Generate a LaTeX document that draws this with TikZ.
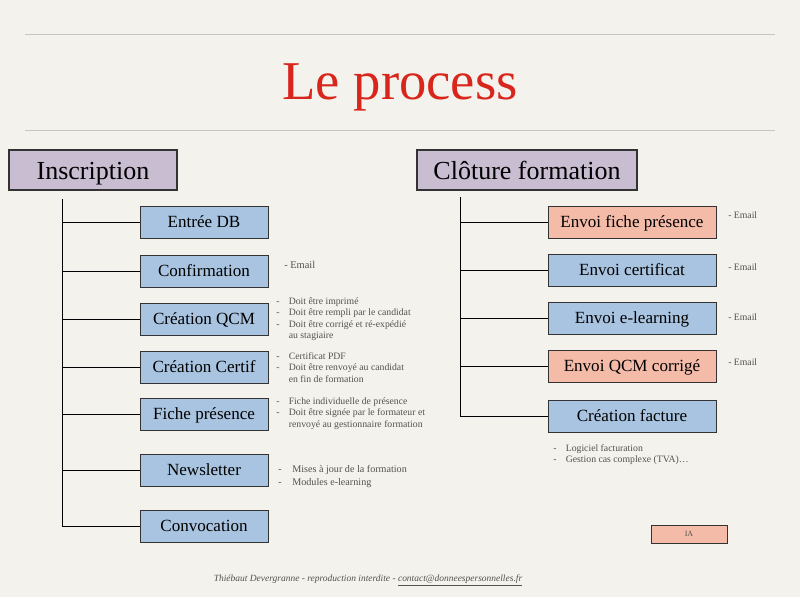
\documentclass[tikz,border=0pt]{standalone}
\usepackage{fontspec}
\setmainfont{Liberation Serif}
\usetikzlibrary{positioning}

\definecolor{paper}{HTML}{F4F2ED}
\definecolor{rulegrey}{HTML}{C9C5BD}
\definecolor{titlered}{HTML}{D8261C}
\definecolor{headpurple}{HTML}{C9BDD1}
\definecolor{stepblue}{HTML}{A9C4E0}
\definecolor{stepsalmon}{HTML}{F4BBA8}
\definecolor{notegrey}{HTML}{55524E}

\tikzset{
  headbox/.style={draw=black!80, fill=headpurple, line width=0.8pt, minimum width=126pt, minimum height=30pt, text height=14pt, text depth=0pt, font=\fontsize{19.5}{22}\selectfont},
  leftbox/.style={draw=black!80, fill=stepblue, line width=0.6pt, minimum width=96pt, minimum height=24pt, text height=8.8pt, text depth=0pt, font=\fontsize{12.8}{15}\selectfont},
  rightbox/.style={leftbox, minimum width=126pt},
  notetext/.style={inner sep=0pt, text=notegrey, font=\fontsize{7.3}{8.6}\selectfont},
  branch/.style={line width=0.7pt}
}

\begin{document}
\begin{tikzpicture}[x=0.75pt,y=-0.75pt]
\fill[paper] (0,0) rectangle (800,597);
\useasboundingbox (0,0) rectangle (800,597);

\draw[rulegrey, line width=0.6pt] (25,34) -- (775,34);
\draw[rulegrey, line width=0.6pt] (25,130) -- (775,130);
\node[text=titlered, font=\fontsize{41}{46}\selectfont] (title) at (400,87) {Le process};

% left column
\node[headbox, minimum width=126pt] (insc) at (93,170) {Inscription};

\node[leftbox] (db) at (204,222) {Entrée DB};
\node[leftbox] (conf) at (204,271) {Confirmation};
\node[leftbox] (qcm) at (204,319) {Création QCM};
\node[leftbox] (certif) at (204,367) {Création Certif};
\node[leftbox] (fiche) at (204,414) {Fiche présence};
\node[leftbox] (news) at (204,470) {Newsletter};
\node[leftbox] (convoc) at (204,526) {Convocation};

\coordinate (ltop) at (62,199);
\coordinate (lbot) at (62,526);

\node[notetext, anchor=west, font=\fontsize{7.8}{9}\selectfont] (confnote) at (284,265) {- Email};
\node[notetext, anchor=north west] (qcmnote) at (276,296) {\begin{tabular}{@{}l@{\hspace{7pt}}l@{}}
- & Doit être imprimé\\
- & Doit être rempli par le candidat\\
- & Doit être corrigé et ré-expédié\\
  & au stagiaire
\end{tabular}};
\node[notetext, anchor=north west] (certifnote) at (276,351) {\begin{tabular}{@{}l@{\hspace{7pt}}l@{}}
- & Certificat PDF\\
- & Doit être renvoyé au candidat\\
  & en fin de formation
\end{tabular}};
\node[notetext, anchor=north west] (fichenote) at (276,396) {\begin{tabular}{@{}l@{\hspace{7pt}}l@{}}
- & Fiche individuelle de présence\\
- & Doit être signée par le formateur et\\
  & renvoyé au gestionnaire formation
\end{tabular}};
\node[notetext, anchor=north west, font=\fontsize{7.6}{9.6}\selectfont] (newsnote) at (278,463) {\begin{tabular}{@{}l@{\hspace{8pt}}l@{}}
- & Mises à jour de la formation\\
- & Modules e-learning
\end{tabular}};

\draw[branch] (ltop) -- (lbot);
\draw[branch] (ltop |- db.west) -- (db.west);
\draw[branch] (ltop |- conf.west) -- (conf.west);
\draw[branch] (ltop |- qcm.west) -- (qcm.west);
\draw[branch] (ltop |- certif.west) -- (certif.west);
\draw[branch] (ltop |- fiche.west) -- (fiche.west);
\draw[branch] (ltop |- news.west) -- (news.west);
\draw[branch] (ltop |- convoc.west) -- (convoc.west);

% right column
\node[headbox, minimum width=165pt] (clot) at (527,170) {Clôture formation};

\node[rightbox, fill=stepsalmon] (envfiche) at (632,222) {Envoi fiche présence};
\node[rightbox] (envcert) at (632,270) {Envoi certificat};
\node[rightbox] (envelearn) at (632,318) {Envoi e-learning};
\node[rightbox, fill=stepsalmon] (envqcm) at (632,366) {Envoi QCM corrigé};
\node[rightbox] (facture) at (632,416) {Création facture};

\coordinate (rtop) at (460,197);
\coordinate (rbot) at (460,416);

\node[notetext, anchor=west] (mail1) at (728,215) {- Email};
\node[notetext, anchor=west] (mail2) at (728,267) {- Email};
\node[notetext, anchor=west] (mail3) at (728,317) {- Email};
\node[notetext, anchor=west] (mail4) at (728,362) {- Email};
\node[notetext, anchor=north west] (facnote) at (553,443) {\begin{tabular}{@{}l@{\hspace{7pt}}l@{}}
- & Logiciel facturation\\
- & Gestion cas complexe (TVA)…
\end{tabular}};

\draw[branch] (rtop) -- (rbot);
\draw[branch] (rtop |- envfiche.west) -- (envfiche.west);
\draw[branch] (rtop |- envcert.west) -- (envcert.west);
\draw[branch] (rtop |- envelearn.west) -- (envelearn.west);
\draw[branch] (rtop |- envqcm.west) -- (envqcm.west);
\draw[branch] (rtop |- facture.west) -- (facture.west);

\node[draw=black!80, fill=stepsalmon, line width=0.6pt, minimum width=57pt, minimum height=13.5pt, inner sep=0pt, text=notegrey, font=\fontsize{6}{7}\selectfont] (ia) at (689,534) {IA};

\node[text=notegrey, font=\itshape\fontsize{7.1}{9}\selectfont] (footer) at (368,580) {Thiébaut Devergranne - reproduction interdite - \underline{contact@donneespersonnelles.fr}};
\end{tikzpicture}
\end{document}
